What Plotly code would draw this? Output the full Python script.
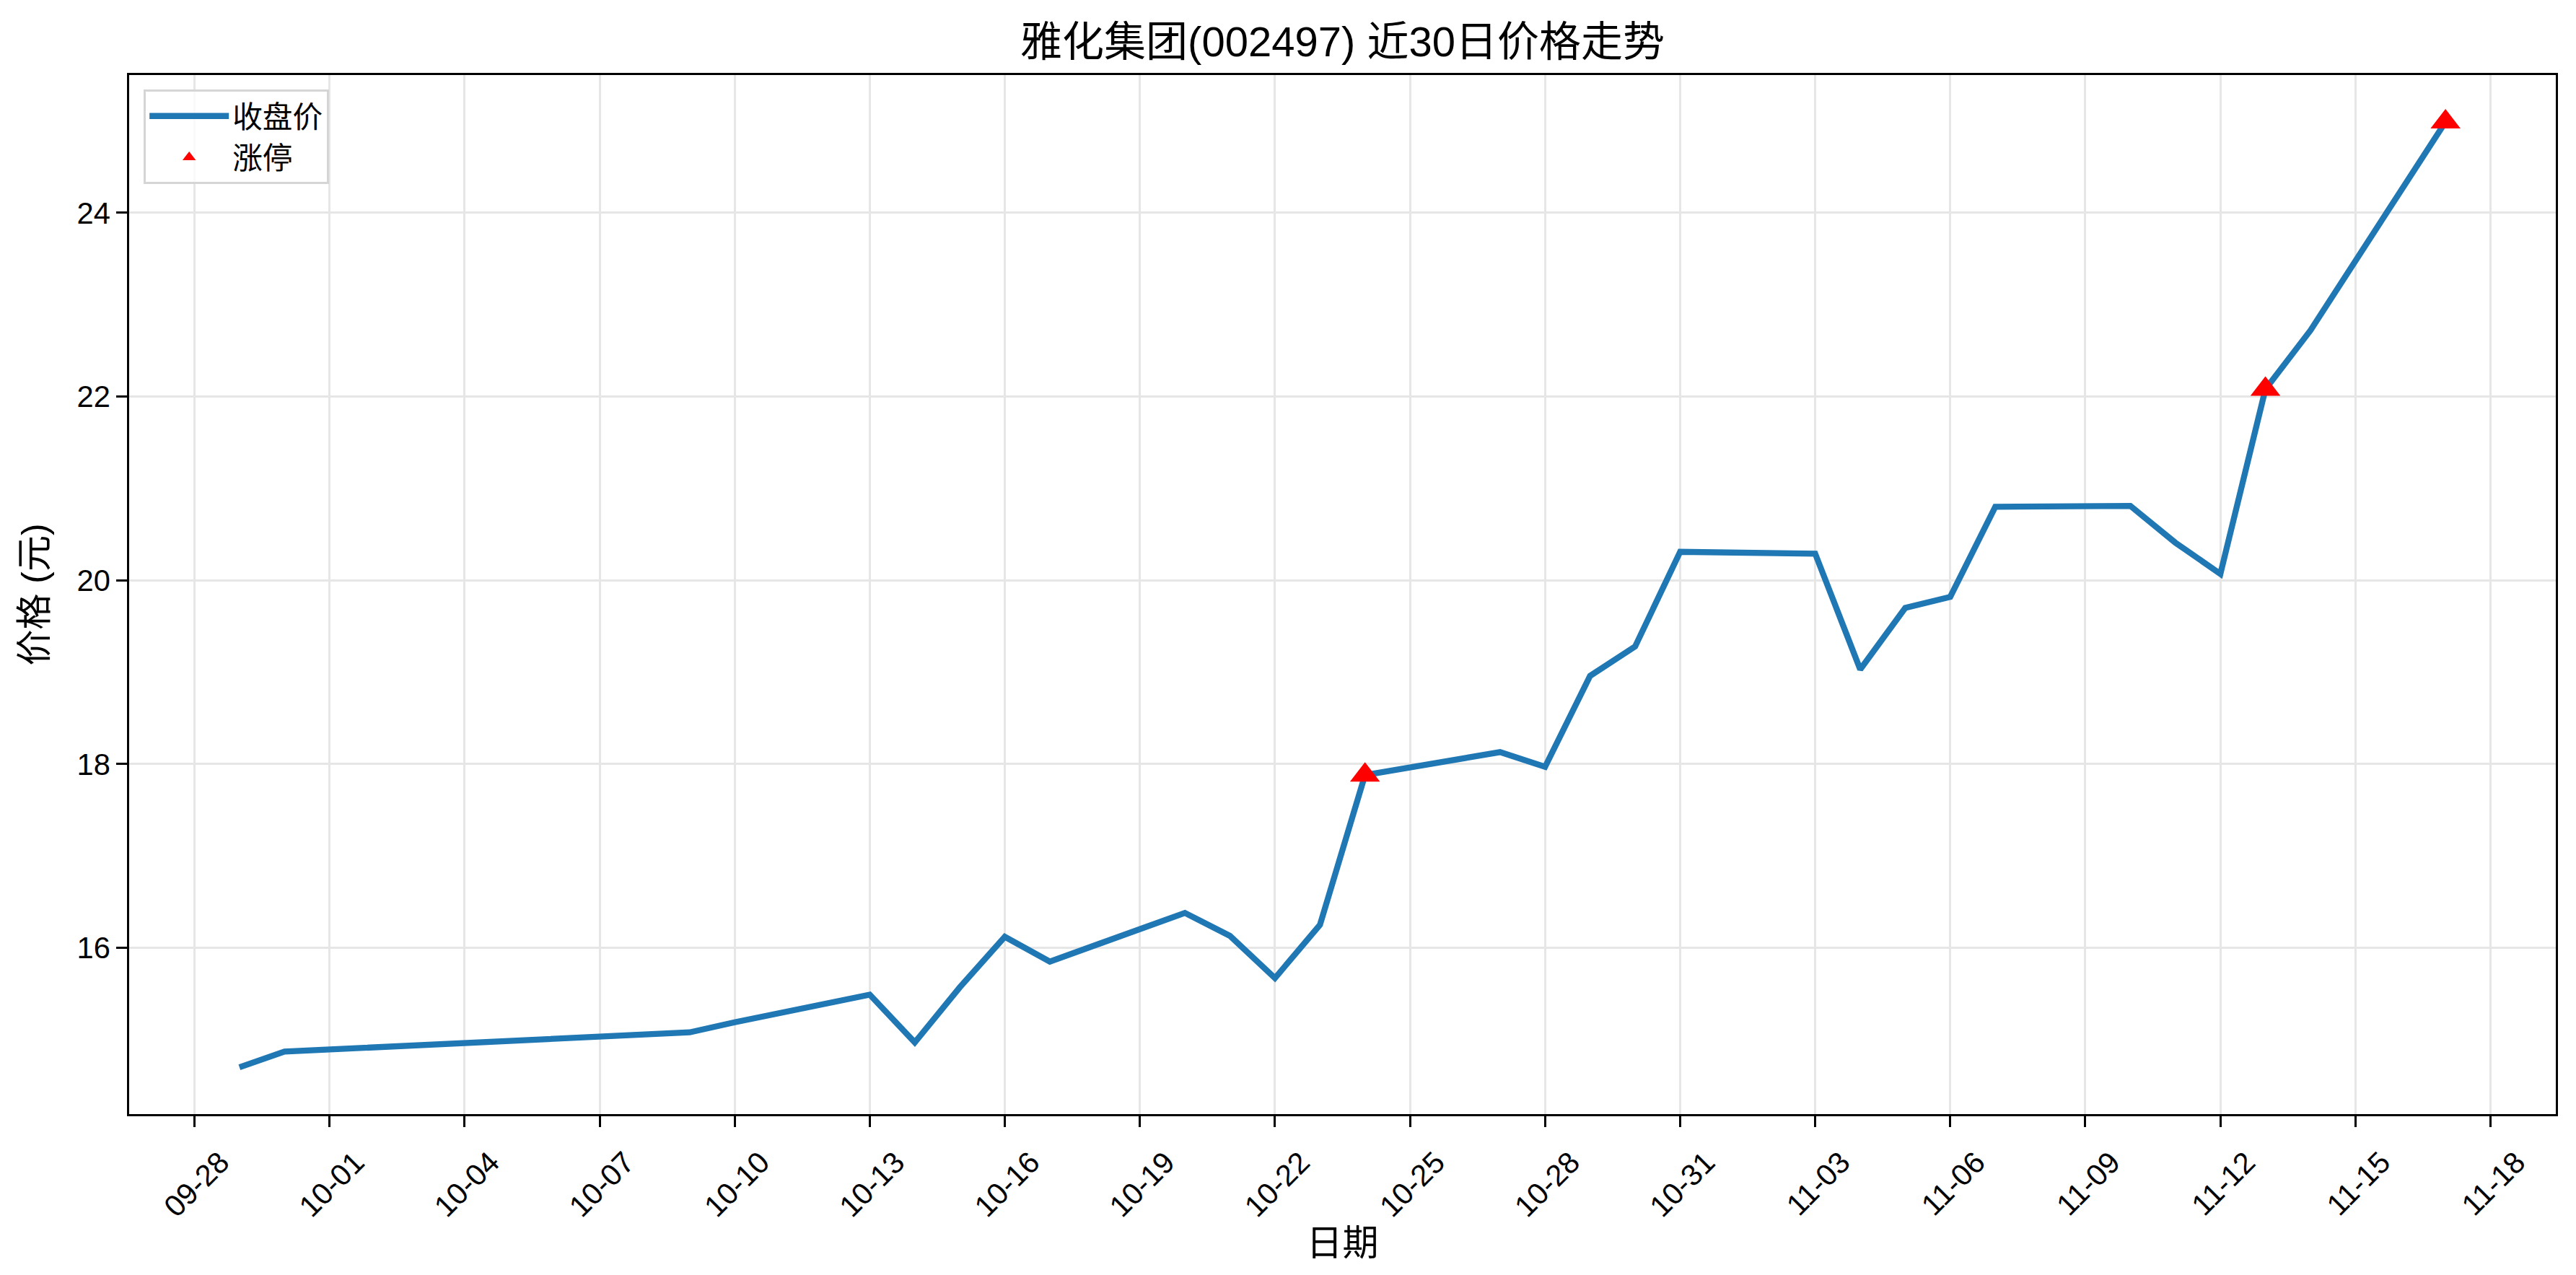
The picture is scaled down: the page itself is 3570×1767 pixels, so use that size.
import plotly.graph_objects as go

dates = ["2025-09-29", "2025-09-30", "2025-10-09", "2025-10-10", "2025-10-13",
         "2025-10-14", "2025-10-15", "2025-10-16", "2025-10-17", "2025-10-20",
         "2025-10-21", "2025-10-22", "2025-10-23", "2025-10-24", "2025-10-27",
         "2025-10-28", "2025-10-29", "2025-10-30", "2025-10-31", "2025-11-03",
         "2025-11-04", "2025-11-05", "2025-11-06", "2025-11-07", "2025-11-10",
         "2025-11-11", "2025-11-12", "2025-11-13", "2025-11-14", "2025-11-17"]
close = [14.70, 14.87, 15.08, 15.19, 15.49,
         14.97, 15.57, 16.12, 15.85, 16.38,
         16.13, 15.67, 16.25, 17.88, 18.13,
         17.97, 18.96, 19.28, 20.31, 20.29,
         19.03, 19.70, 19.82, 20.80, 20.81,
         20.41, 20.07, 22.08, 22.72, 24.99]
limit_up_dates = ["2025-10-24", "2025-11-13", "2025-11-17"]
limit_up_prices = [close[dates.index(d)] for d in limit_up_dates]

title_text = "雅化集团(002497) 近30日价格走势"
x_label = "日期"
y_label = "价格 (元)"
y_ticks = [16, 18, 20, 22, 24]

FONT = "Arial, 'Liberation Sans', 'Noto Sans CJK SC', sans-serif"

fig = go.Figure()
fig.add_trace(go.Scatter(x=dates, y=close, mode="lines", name="收盘价",
                         line=dict(color="#1f77b4", width=8.3)))
fig.add_trace(go.Scatter(x=limit_up_dates, y=limit_up_prices, mode="markers", name="涨停",
                         marker=dict(symbol="triangle-up", color="red", size=36,
                                     line=dict(width=0))))

axis_common = dict(showline=True, linecolor="black", linewidth=3.3, mirror=True,
                   ticks="outside", ticklen=14.6, tickwidth=3.3, tickcolor="black",
                   showgrid=True, gridcolor="#e6e6e6", gridwidth=3.3,
                   zeroline=False,
                   tickfont=dict(family=FONT, size=41.7, color="black"))

fig.update_layout(
    width=3570, height=1767,
    margin=dict(l=171, r=36, t=96, b=231),
    paper_bgcolor="white", plot_bgcolor="white",
    font=dict(family=FONT, color="black"),
    title=dict(text=title_text, x=0.5, xref="paper", xanchor="center",
               y=1 - 50 / 1767, yanchor="middle",
               font=dict(family=FONT, size=58, color="black")),
    xaxis=dict(type="date", range=["2025-09-26 13:12", "2025-11-19 10:48"],
               tick0="2025-09-28", dtick=3 * 86400000, tickformat="%m-%d",
               tickangle=-45, ticklabelshift=36, ticklabelstandoff=8,
               title=dict(text=x_label, font=dict(family=FONT, size=50), standoff=0),
               **axis_common),
    yaxis=dict(range=[14.19, 25.50], tickvals=y_ticks,
               title=dict(text=y_label, font=dict(family=FONT, size=50), standoff=26),
               **axis_common),
    legend=dict(x=0.006, y=0.986, xanchor="left", yanchor="top",
                bgcolor="rgba(255,255,255,0.8)", bordercolor="#d5d5d5", borderwidth=3,
                font=dict(family=FONT, size=41.7, color="black"),
                itemwidth=110, tracegroupgap=0),
    showlegend=True,
)

fig.write_html("out.html")
